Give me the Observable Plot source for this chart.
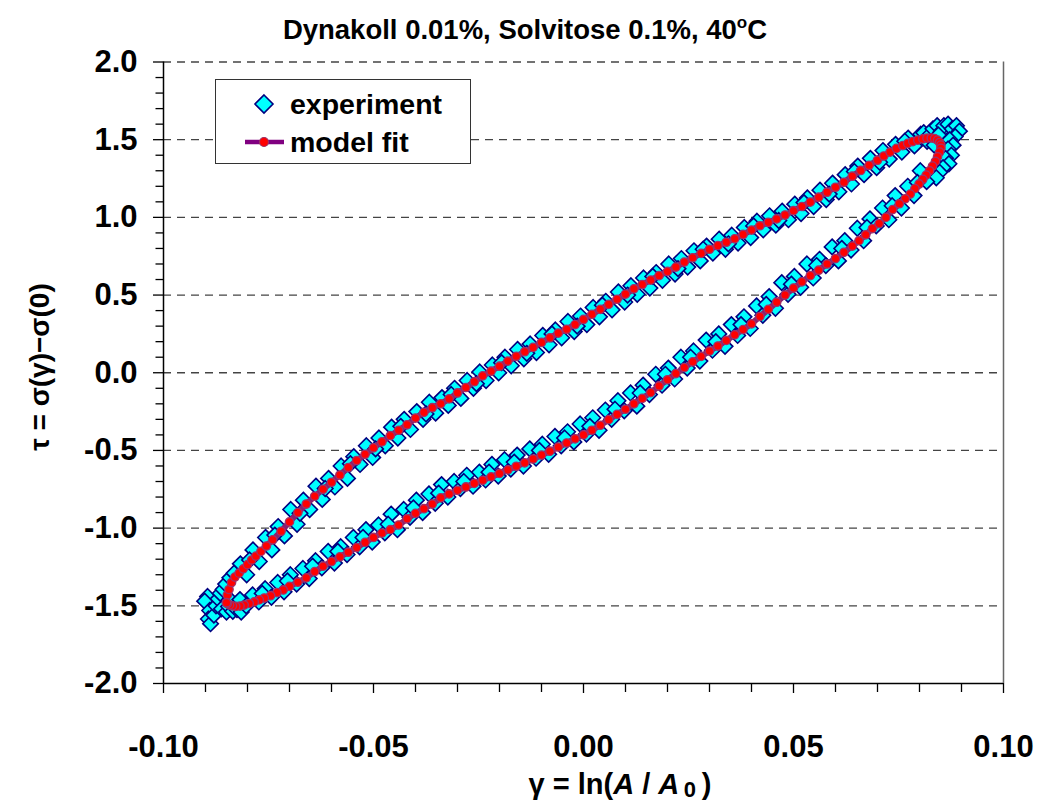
<!DOCTYPE html>
<html>
<head>
<meta charset="utf-8">
<script src="https://cdn.jsdelivr.net/npm/d3@7"></script>
<script src="https://cdn.jsdelivr.net/npm/@observablehq/plot@0.6"></script>
<style>
  body { margin: 0; background: #fff; font-family: "Liberation Sans", Arial, sans-serif; }
  #wrap { position: relative; width: 1050px; height: 803px; overflow: hidden; }
  #title { position: absolute; left: 0; top: 14px; width: 1050px; text-align: center;
           font-weight: bold; font-size: 27.5px; line-height: 32px; color: #000; }
  #title sup { font-size: 17px; vertical-align: 11px; line-height: 0; }
  #xtitle { position: absolute; left: 420px; width: 400px; top: 769px; text-align: center;
            font-weight: bold; font-size: 29px; line-height: 30px; }
  #xtitle sub { font-size: 22px; vertical-align: -3px; line-height: 0; }
  #ytitle { position: absolute; left: 40px; top: 367px; width: 320px; margin-left: -160px; margin-top: -18px;
            text-align: center; font-weight: bold; font-size: 28px; line-height: 36px;
            transform: rotate(-90deg); }
  #legend { position: absolute; left: 215px; top: 79px; width: 256px; height: 85px;
            box-sizing: border-box; border: 1.5px solid #333; background: #fff; }
  #legend svg { display: block; }
</style>
</head>
<body>
<div id="wrap">
  <div id="chart"></div>
  <div id="title">Dynakoll 0.01%, Solvitose 0.1%, 40<sup>o</sup>C</div>
  <div id="xtitle">&gamma; = ln(<i>A</i> / <i>A</i><sub>&thinsp;0</sub>&thinsp;)</div>
  <div id="ytitle">&tau; = &sigma;(&gamma;)&minus;&sigma;(0)</div>
  <div id="legend">
    <svg width="253" height="82">
      <path d="M48,15 L57,24 L48,33 L39,24 Z" fill="#00FFFF" stroke="#000080" stroke-width="1.6"/>
      <text x="74" y="34" font-size="28.5" font-weight="bold" font-family="Liberation Sans, Arial, sans-serif">experiment</text>
      <line x1="29" y1="62" x2="68" y2="62" stroke="#800080" stroke-width="4.5"/>
      <circle cx="48" cy="62" r="4.5" fill="#FF0000" stroke="#993366" stroke-width="1.2"/>
      <text x="74" y="72" font-size="28.5" font-weight="bold" font-family="Liberation Sans, Arial, sans-serif">model fit</text>
    </svg>
  </div>
</div>
<script>
// Axis ticks
const xMajorTicks = [-0.10, -0.05, 0.00, 0.05, 0.10];
const xMinorTicks = [-0.09, -0.08, -0.07, -0.06, -0.04, -0.03, -0.02, -0.01,
                     0.01, 0.02, 0.03, 0.04, 0.06, 0.07, 0.08, 0.09];
const yMajorTicks = [-2.0, -1.5, -1.0, -0.5, 0.0, 0.5, 1.0, 1.5, 2.0];
const yMinorTicks = [-1.9, -1.8, -1.7, -1.6, -1.4, -1.3, -1.2, -1.1, -0.9, -0.8, -0.7, -0.6,
                     -0.4, -0.3, -0.2, -0.1, 0.1, 0.2, 0.3, 0.4, 0.6, 0.7, 0.8, 0.9,
                     1.1, 1.2, 1.3, 1.4, 1.6, 1.7, 1.8, 1.9];
const gridLevels = [-1.5, -1.0, -0.5, 0.0, 0.5, 1.0, 1.5, 2.0];

// Model fit: upper branch (strain increasing), [gamma, tau]
const modelUpper = [
  [-0.0850,-1.480],[-0.0848,-1.430],[-0.0844,-1.395],[-0.0838,-1.350],[-0.0830,-1.315],
  [-0.0820,-1.290],[-0.0810,-1.262],[-0.0800,-1.235],[-0.0790,-1.205],[-0.0780,-1.180],
  [-0.0768,-1.150],[-0.0755,-1.115],[-0.0740,-1.075],[-0.0720,-1.020],[-0.0700,-0.960],
  [-0.0680,-0.900],[-0.0660,-0.845],[-0.0640,-0.795],[-0.0620,-0.750],[-0.0600,-0.705],
  [-0.0580,-0.658],[-0.0560,-0.610],[-0.0540,-0.565],[-0.0520,-0.525],[-0.0500,-0.483],
  [-0.0480,-0.445],[-0.0460,-0.405],[-0.0440,-0.370],[-0.0420,-0.335],[-0.0400,-0.292],
  [-0.0380,-0.255],[-0.0360,-0.225],[-0.0340,-0.200],[-0.0320,-0.168],[-0.0300,-0.130],
  [-0.0280,-0.095],[-0.0260,-0.058],[-0.0240,-0.020],[-0.0220,0.010],[-0.0200,0.042],
  [-0.0180,0.075],[-0.0160,0.106],[-0.0140,0.135],[-0.0120,0.163],[-0.0100,0.195],
  [-0.0080,0.225],[-0.0060,0.255],[-0.0040,0.280],[-0.0020,0.310],[0.0000,0.343],
  [0.0020,0.376],[0.0040,0.408],[0.0060,0.440],[0.0080,0.473],[0.0100,0.506],
  [0.0120,0.540],[0.0140,0.568],[0.0160,0.596],[0.0180,0.625],[0.0200,0.652],
  [0.0220,0.680],[0.0240,0.712],[0.0260,0.740],[0.0280,0.768],[0.0300,0.795],
  [0.0320,0.818],[0.0340,0.840],[0.0360,0.862],[0.0380,0.890],[0.0400,0.918],
  [0.0420,0.946],[0.0440,0.968],[0.0460,0.990],[0.0480,1.015],[0.0500,1.043],
  [0.0520,1.070],[0.0540,1.098],[0.0560,1.130],[0.0580,1.162],[0.0600,1.194],
  [0.0620,1.226],[0.0640,1.265],[0.0660,1.302],[0.0680,1.335],[0.0700,1.368],
  [0.0715,1.395],[0.0730,1.420],[0.0745,1.444],[0.0760,1.462],[0.0772,1.476],
  [0.0784,1.488],[0.0796,1.497],[0.0808,1.505],[0.0818,1.510],[0.0828,1.511],
  [0.0836,1.507],[0.0843,1.497],[0.0848,1.482],[0.0851,1.465],[0.0851,1.445]
];

// Model fit: lower branch (strain decreasing), back to the starting point
const modelLower = [
  [0.0848,1.420],[0.0843,1.390],[0.0838,1.360],[0.0831,1.330],[0.0824,1.300],
  [0.0816,1.272],[0.0808,1.245],[0.0799,1.215],[0.0789,1.185],[0.0778,1.150],
  [0.0766,1.120],[0.0752,1.088],[0.0736,1.050],[0.0720,1.000],[0.0704,0.960],
  [0.0688,0.928],[0.0672,0.888],[0.0656,0.850],[0.0640,0.815],[0.0620,0.775],
  [0.0600,0.735],[0.0580,0.700],[0.0560,0.660],[0.0540,0.625],[0.0520,0.585],
  [0.0500,0.545],[0.0480,0.500],[0.0460,0.454],[0.0440,0.408],[0.0420,0.362],
  [0.0400,0.315],[0.0380,0.278],[0.0360,0.244],[0.0340,0.208],[0.0320,0.172],
  [0.0300,0.140],[0.0280,0.105],[0.0260,0.070],[0.0240,0.033],[0.0220,-0.005],
  [0.0200,-0.045],[0.0180,-0.085],[0.0160,-0.128],[0.0140,-0.165],[0.0120,-0.200],
  [0.0100,-0.235],[0.0080,-0.268],[0.0060,-0.302],[0.0040,-0.338],[0.0020,-0.370],
  [0.0000,-0.400],[-0.0020,-0.425],[-0.0040,-0.452],[-0.0060,-0.478],[-0.0080,-0.505],
  [-0.0100,-0.530],[-0.0120,-0.555],[-0.0140,-0.580],[-0.0160,-0.602],[-0.0180,-0.625],
  [-0.0200,-0.648],[-0.0220,-0.670],[-0.0240,-0.692],[-0.0260,-0.712],[-0.0280,-0.735],
  [-0.0300,-0.757],[-0.0320,-0.780],[-0.0340,-0.805],[-0.0360,-0.845],[-0.0380,-0.875],
  [-0.0400,-0.905],[-0.0420,-0.940],[-0.0440,-0.980],[-0.0460,-1.010],[-0.0480,-1.032],
  [-0.0500,-1.060],[-0.0520,-1.092],[-0.0540,-1.125],[-0.0560,-1.155],[-0.0580,-1.185],
  [-0.0600,-1.215],[-0.0620,-1.245],[-0.0640,-1.280],[-0.0660,-1.320],[-0.0680,-1.348],
  [-0.0700,-1.375],[-0.0715,-1.398],[-0.0730,-1.415],[-0.0745,-1.435],[-0.0760,-1.450],
  [-0.0772,-1.462],[-0.0784,-1.475],[-0.0796,-1.485],[-0.0808,-1.495],[-0.0818,-1.502],
  [-0.0828,-1.504],[-0.0836,-1.500],[-0.0843,-1.494],[-0.0848,-1.485],[-0.0850,-1.480]
];

// Measured stress: upper branch
const experimentUpper = [
  [-0.0817,-1.230],[-0.0802,-1.300],[-0.0787,-1.140],[-0.0772,-1.215],[-0.0757,-1.060],[-0.0742,-1.140],
  [-0.0727,-0.990],[-0.0712,-1.050],[-0.0697,-0.880],[-0.0682,-0.975],[-0.0667,-0.820],[-0.0652,-0.880],
  [-0.0637,-0.730],[-0.0622,-0.815],[-0.0607,-0.680],[-0.0592,-0.735],[-0.0577,-0.600],[-0.0562,-0.680],
  [-0.0547,-0.540],[-0.0532,-0.590],[-0.0517,-0.470],[-0.0502,-0.545],[-0.0487,-0.420],[-0.0472,-0.470],
  [-0.0457,-0.350],[-0.0442,-0.420],[-0.0427,-0.300],[-0.0412,-0.365],[-0.0397,-0.250],[-0.0382,-0.300],
  [-0.0367,-0.190],[-0.0352,-0.260],[-0.0337,-0.160],[-0.0322,-0.210],[-0.0307,-0.100],[-0.0292,-0.165],
  [-0.0277,-0.050],[-0.0262,-0.100],[-0.0247,0.005],[-0.0232,-0.050],[-0.0217,0.050],[-0.0202,0.000],
  [-0.0187,0.100],[-0.0172,0.045],[-0.0157,0.150],[-0.0142,0.090],[-0.0127,0.185],[-0.0112,0.130],
  [-0.0097,0.240],[-0.0082,0.180],[-0.0067,0.275],[-0.0052,0.225],[-0.0037,0.330],[-0.0022,0.265],
  [-0.0007,0.365],[0.0008,0.310],[0.0023,0.420],[0.0038,0.360],[0.0053,0.460],[0.0068,0.405],
  [0.0083,0.520],[0.0098,0.455],[0.0113,0.560],[0.0128,0.505],[0.0143,0.610],[0.0158,0.545],
  [0.0173,0.645],[0.0188,0.595],[0.0203,0.700],[0.0218,0.635],[0.0233,0.735],[0.0248,0.680],
  [0.0263,0.785],[0.0278,0.720],[0.0293,0.815],[0.0308,0.770],[0.0323,0.860],[0.0338,0.795],
  [0.0353,0.885],[0.0368,0.835],[0.0383,0.935],[0.0398,0.870],[0.0413,0.975],[0.0428,0.920],
  [0.0443,1.010],[0.0458,0.950],[0.0473,1.040],[0.0488,0.985],[0.0503,1.085],[0.0518,1.025],
  [0.0533,1.125],[0.0548,1.070],[0.0563,1.175],[0.0578,1.115],[0.0593,1.220],[0.0608,1.165],
  [0.0623,1.275],[0.0638,1.215],[0.0653,1.330],[0.0668,1.275],[0.0683,1.380],[0.0698,1.320],
  [0.0713,1.430],[0.0728,1.375],[0.0743,1.470],[0.0758,1.420],[0.0773,1.510],[0.0788,1.460],
  [0.0803,1.535],[0.0818,1.490],
  [-0.0795,-1.205],[-0.0735,-1.045],[-0.0675,-0.905],[-0.0615,-0.745],[-0.0555,-0.585],[-0.0495,-0.490],
  [-0.0435,-0.345],[-0.0375,-0.265],[-0.0315,-0.140],[-0.0255,-0.070],[-0.0195,0.065],[-0.0135,0.125],
  [-0.0075,0.250],[-0.0015,0.300],[0.0045,0.435],[0.0105,0.500],[0.0165,0.620],[0.0225,0.670],
  [0.0285,0.795],[0.0345,0.830],[0.0405,0.945],[0.0465,0.980],[0.0525,1.095],[0.0585,1.150],
  [0.0645,1.295],[0.0705,1.355],[0.0765,1.490]
];

// Measured stress: lower branch
const experimentLower = [
  [0.0802,1.300],[0.0817,1.230],[0.0772,1.200],[0.0787,1.140],[0.0742,1.140],[0.0757,1.060],
  [0.0712,1.060],[0.0727,0.985],[0.0682,0.990],[0.0697,0.945],[0.0652,0.930],[0.0667,0.850],
  [0.0622,0.850],[0.0637,0.790],[0.0592,0.810],[0.0607,0.720],[0.0562,0.730],[0.0577,0.690],
  [0.0532,0.700],[0.0547,0.610],[0.0502,0.620],[0.0517,0.550],[0.0472,0.580],[0.0487,0.505],
  [0.0442,0.490],[0.0457,0.415],[0.0412,0.430],[0.0427,0.370],[0.0382,0.360],[0.0397,0.285],
  [0.0352,0.310],[0.0367,0.240],[0.0322,0.250],[0.0337,0.170],[0.0292,0.210],[0.0307,0.145],
  [0.0262,0.140],[0.0277,0.075],[0.0232,0.100],[0.0247,0.030],[0.0202,0.030],[0.0217,-0.040],
  [0.0172,-0.010],[0.0187,-0.080],[0.0142,-0.080],[0.0157,-0.140],[0.0112,-0.130],[0.0127,-0.215],
  [0.0082,-0.180],[0.0097,-0.245],[0.0052,-0.240],[0.0067,-0.300],[0.0022,-0.290],[0.0037,-0.370],
  [-0.0008,-0.330],[0.0007,-0.395],[-0.0038,-0.380],[-0.0023,-0.445],[-0.0068,-0.410],[-0.0053,-0.470],
  [-0.0098,-0.460],[-0.0083,-0.525],[-0.0128,-0.490],[-0.0113,-0.550],[-0.0158,-0.530],[-0.0143,-0.600],
  [-0.0188,-0.560],[-0.0173,-0.620],[-0.0218,-0.590],[-0.0203,-0.665],[-0.0248,-0.640],[-0.0233,-0.690],
  [-0.0278,-0.660],[-0.0263,-0.730],[-0.0308,-0.700],[-0.0293,-0.745],[-0.0338,-0.720],[-0.0323,-0.800],
  [-0.0368,-0.780],[-0.0353,-0.840],[-0.0398,-0.820],[-0.0383,-0.900],[-0.0428,-0.880],[-0.0413,-0.930],
  [-0.0458,-0.910],[-0.0443,-1.010],[-0.0488,-0.980],[-0.0473,-1.030],[-0.0518,-1.010],[-0.0503,-1.090],
  [-0.0548,-1.060],[-0.0533,-1.120],[-0.0578,-1.120],[-0.0563,-1.170],[-0.0608,-1.150],[-0.0593,-1.225],
  [-0.0638,-1.210],[-0.0623,-1.255],[-0.0668,-1.260],[-0.0653,-1.325],[-0.0698,-1.300],[-0.0683,-1.360],
  [-0.0728,-1.350],[-0.0713,-1.410],[-0.0758,-1.390],[-0.0743,-1.445],[-0.0788,-1.430],[-0.0773,-1.475],
  [-0.0818,-1.460],[-0.0803,-1.500],
  [0.0795,1.225],[0.0735,1.075],[0.0675,0.935],[0.0615,0.800],[0.0555,0.690],[0.0495,0.570],
  [0.0435,0.440],[0.0375,0.310],[0.0315,0.200],[0.0255,0.100],[0.0195,-0.010],[0.0135,-0.130],
  [0.0075,-0.235],[0.0015,-0.345],[-0.0045,-0.420],[-0.0105,-0.500],[-0.0165,-0.575],[-0.0225,-0.640],
  [-0.0285,-0.700],[-0.0345,-0.775],[-0.0405,-0.870],[-0.0465,-0.975],[-0.0525,-1.060],[-0.0585,-1.150],
  [-0.0645,-1.245],[-0.0705,-1.340],[-0.0765,-1.420]
];

// Measured stress near the two strain reversals
const experimentTips = [
  [-0.0895,-1.440],[-0.0902,-1.470],[-0.0890,-1.530],[-0.0893,-1.585],[-0.0888,-1.615],[-0.0880,-1.560],
  [-0.0875,-1.500],[-0.0870,-1.455],[-0.0865,-1.420],[-0.0858,-1.395],[-0.0862,-1.520],[-0.0850,-1.540],
  [-0.0845,-1.505],[-0.0838,-1.470],[-0.0852,-1.360],[-0.0842,-1.320],[-0.0832,-1.290],[-0.0835,-1.535],
  [-0.0825,-1.525],[-0.0815,-1.540],
  [0.0810,1.545],[0.0822,1.525],[0.0832,1.570],[0.0842,1.590],[0.0852,1.555],[0.0858,1.590],
  [0.0868,1.600],[0.0878,1.570],[0.0888,1.590],[0.0895,1.555],[0.0885,1.520],[0.0872,1.500],
  [0.0880,1.465],[0.0868,1.440],[0.0876,1.400],[0.0862,1.380],[0.0870,1.345],[0.0856,1.320],
  [0.0848,1.290],[0.0840,1.255],[0.0835,1.465],[0.0845,1.530]
];

const experiment = [...experimentUpper, ...experimentTips, ...experimentLower];
const model = [...modelUpper, ...modelLower];

const fmt1 = d => d.toFixed(1);
const fmt2 = d => d.toFixed(2);

const chart = Plot.plot({
  width: 1050,
  height: 803,
  marginLeft: 163,
  marginRight: 47,
  marginTop: 61.5,
  marginBottom: 120,
  style: { fontFamily: "Liberation Sans, Arial, sans-serif", background: "#fff", color: "#000", overflow: "visible" },
  x: { domain: [-0.1, 0.1] },
  y: { domain: [-2, 2] },
  marks: [
    Plot.ruleY(gridLevels, { stroke: "#444", strokeWidth: 1.3, strokeDasharray: "8,6" }),
    Plot.ruleX([0.1], { stroke: "#666", strokeWidth: 1.5 }),
    Plot.dot(experiment, { x: d => d[0], y: d => d[1], symbol: "diamond2", r: 7,
      fill: "#00FFFF", stroke: "#000080", strokeWidth: 1.6 }),
    Plot.line(model, { x: d => d[0], y: d => d[1], stroke: "#8A2070", strokeWidth: 6, curve: "linear" }),
    Plot.dot(model, { x: d => d[0], y: d => d[1], r: 4.2, fill: "#FF0000", stroke: "#A0306A", strokeWidth: 1.3 }),
    Plot.axisY(yMinorTicks, { tickSize: 7.5, text: null, label: null, strokeWidth: 1.3 }),
    Plot.axisY(yMajorTicks, { tickSize: 10, tickPadding: 16, tickFormat: fmt1, label: null,
      fontSize: 31, fontWeight: "bold", strokeWidth: 1.3 }),
    Plot.axisX(xMinorTicks, { tickSize: 9, text: null, label: null, strokeWidth: 1.3 }),
    Plot.axisX(xMajorTicks, { tickSize: 10, tickPadding: 41, tickFormat: fmt2, label: null,
      fontSize: 31, fontWeight: "bold", strokeWidth: 1.3 }),
    Plot.ruleX([-0.1], { stroke: "#000", strokeWidth: 1.5 }),
    Plot.ruleY([-2], { stroke: "#000", strokeWidth: 1.5 })
  ]
});
document.getElementById("chart").appendChild(chart);
</script>
</body>
</html>
